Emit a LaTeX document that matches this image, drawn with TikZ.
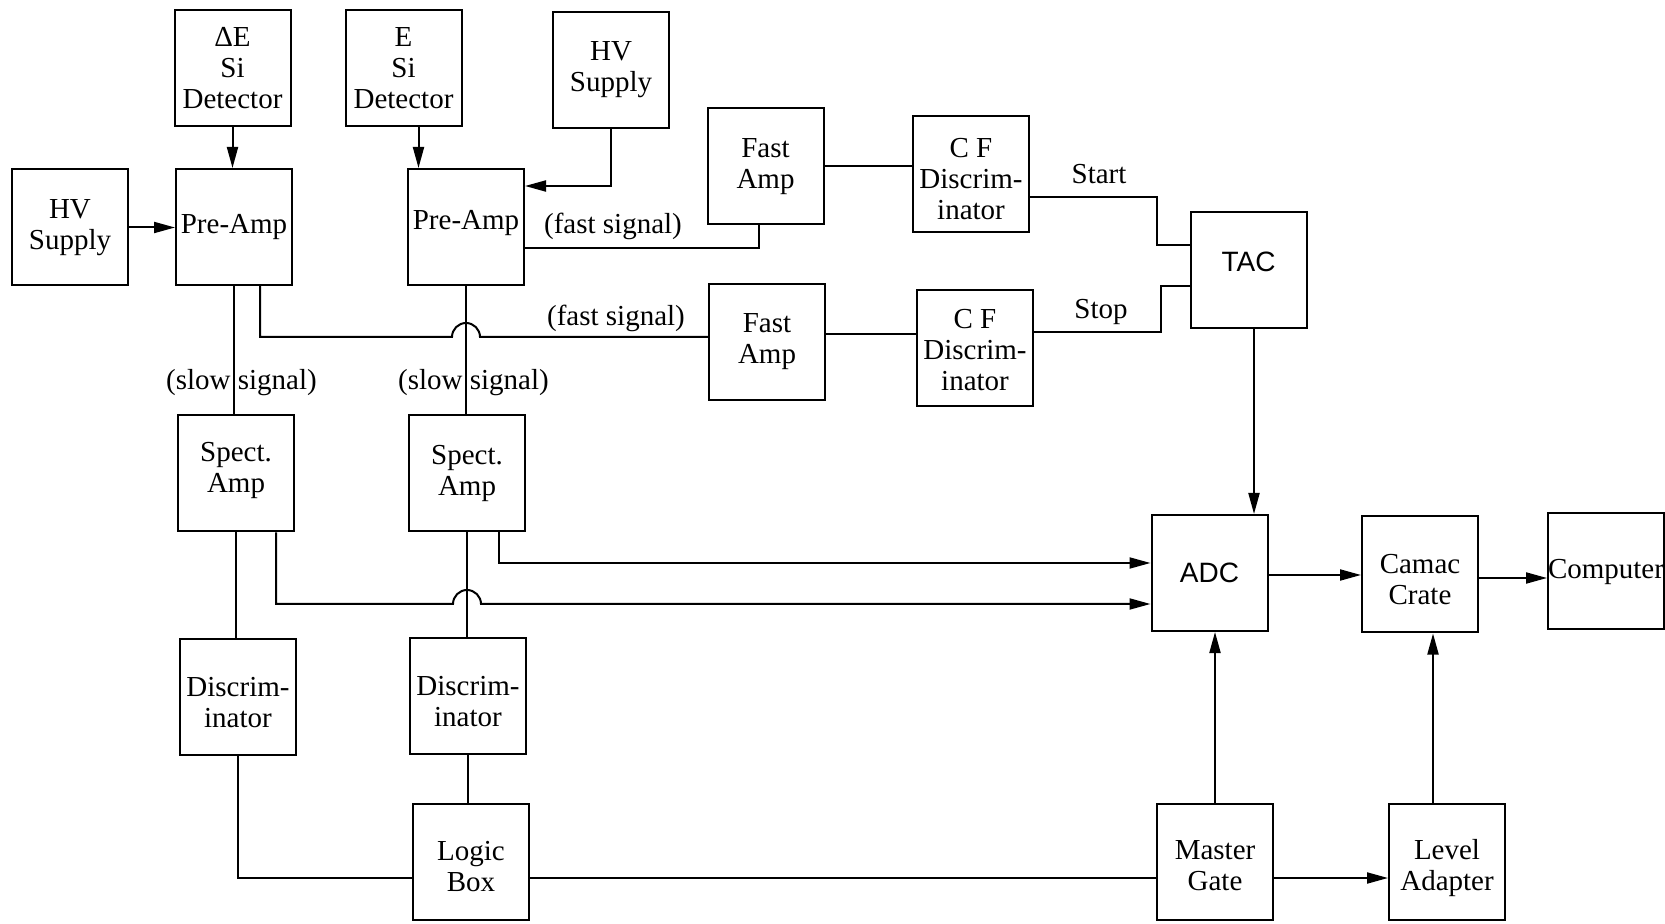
\documentclass[tikz,border=0pt]{standalone}
\usepackage{fontspec}
\setmainfont{Liberation Serif}
\newfontfamily\sansf{Liberation Sans}
\usetikzlibrary{arrows.meta}
\newcommand\shtxt[2]{\raisebox{#1}[\height][\depth]{\begin{tabular}{@{}c@{}}#2\end{tabular}}}
\begin{document}
\begin{tikzpicture}[x=0.5pt,y=-0.5pt,
  blk/.style={draw, line width=1pt, minimum width=58pt, minimum height=58pt, align=center, inner sep=0pt, font=\fontsize{14.5}{15.5}\selectfont},
  sanstext/.style={font=\sansf\fontsize{14}{15}\selectfont},
  wire/.style={line width=1pt},
  arr/.style={line width=1pt, -{Triangle[length=10.5pt,width=5.5pt]}},
  lbl/.style={font=\fontsize{14.5}{15.5}\selectfont, inner sep=0pt}]
\useasboundingbox (0,0) rectangle (1665,924);
% boxes
\node[blk] (dE) at (232.5,68) {ΔE\\Si\\Detector};
\node[blk] (E) at (403.5,68) {E\\Si\\Detector};
\node[blk] (HV2) at (611,70) {HV\\Supply};
\node[blk] (HV1) at (70,227.5) {HV\\Supply};
\node[blk] (PA1) at (234,227) {Pre-Amp};
\node[blk, text height=9.6pt, text depth=7.15pt] (PA2) at (466,227) {Pre-Amp};
\node[blk] (FA1) at (765.5,166.5) {Fast\\Amp};
\node[blk] (CF1) at (971,174) {\shtxt{-4pt}{C F\\Discrim-\\inator}};
\node[blk, sanstext, text height=10pt, text depth=8.5pt] (TAC) at (1248.5,270.5) {TAC};
\node[blk] (FA2) at (767,342) {Fast\\Amp};
\node[blk] (CF2) at (975,348) {\shtxt{-2.9pt}{C F\\Discrim-\\inator}};
\node[blk] (SA1) at (236,473.5) {\shtxt{1.4pt}{Spect.\\Amp}};
\node[blk] (SA2) at (467,473.5) {Spect.\\Amp};
\node[blk, sanstext] (ADC) at (1209.5,573) {ADC};
\node[blk] (Camac) at (1420,574.5) {\shtxt{-4.35pt}{Camac\\Crate}};
\node[blk] (Comp) at (1606,571.5) {Computer};
\node[blk] (Disc1) at (238,696.5) {\shtxt{-4.85pt}{Discrim-\\inator}};
\node[blk] (Disc2) at (468,696) {\shtxt{-4.35pt}{Discrim-\\inator}};
\node[blk] (Logic) at (471,862) {\shtxt{-3.95pt}{Logic\\Box}};
\node[blk] (Master) at (1215,862) {\shtxt{-3.6pt}{Master\\Gate}};
\node[blk] (Level) at (1447,861.5) {\shtxt{-3.5pt}{Level\\Adapter}};
% labels
\node[lbl] (fs1) at (613,226) {(fast signal)};
\node[lbl] (fs2) at (616,318) {(fast signal)};
\node[lbl] (start) at (1099,174) {Start};
\node[lbl] (stop) at (1101,312) {Stop};
\node[lbl] (ss1) at (241.5,383) {(slow signal)};
\node[lbl] (ss2) at (473.5,383) {(slow signal)};
% helper coordinates
\coordinate (eout) at ([xshift=7.5pt]E.south);
\coordinate (pa2hv) at ([yshift=-9pt]PA2.north east);
\coordinate (pa2f) at ([yshift=-10.75pt]PA2.east);
\coordinate (fa1in) at ([xshift=-3.5pt]FA1.south);
\coordinate (cf1out) at ([yshift=-11.5pt]CF1.east);
\coordinate (k1) at (1157,0);
\coordinate (TACa) at ([yshift=12.75pt]TAC.west);
\coordinate (cf2out) at ([yshift=8pt]CF2.east);
\coordinate (k2) at (1161,0);
\coordinate (TACb) at ([yshift=-8pt]TAC.west);
\coordinate (fa2out) at ([yshift=4pt]FA2.east);
\coordinate (p1) at ([xshift=13pt]PA1.south);
\coordinate (f2in) at ([yshift=2.5pt]FA2.west);
\coordinate (h1) at (PA2.south |- f2in);
\coordinate (t1) at ([xshift=2.75pt]TAC.south);
\coordinate (s2) at ([xshift=16pt]SA2.south);
\coordinate (a1) at ([yshift=5pt]ADC.west);
\coordinate (s1) at ([xshift=20pt]SA1.south);
\coordinate (a2) at ([yshift=-15.5pt]ADC.west);
\coordinate (h2) at (SA2.south |- a2);
\coordinate (l1) at ([yshift=-8pt]Logic.west);
\coordinate (l2) at ([yshift=-8pt]Logic.east);
\coordinate (m1) at ([yshift=-8pt]Master.east);
\coordinate (v1) at ([xshift=-7pt]Level.north);
\coordinate (a3) at ([yshift=-1pt]ADC.east);
\coordinate (c1) at ([yshift=-1.75pt]Camac.east);
% connectors
\draw[arr] (dE.south) -- (dE.south |- PA1.north);
\draw[arr] (eout) -- (eout |- PA2.north);
\draw[arr] (HV2.south) |- (pa2hv);
\draw[arr] (HV1.east) -- (HV1.east -| PA1.west);
\draw[wire] (pa2f) -| (fa1in);
\draw[wire] (FA1.east) -- (FA1.east -| CF1.west);
\draw[wire] (cf1out) -| (k1 |- TACa) -- (TACa);
\draw[wire] (fa2out) -- (fa2out -| CF2.west);
\draw[wire] (cf2out) -| (k2 |- TACb) -- (TACb);
\draw[wire] (p1) |- ([xshift=-7pt]h1) arc[start angle=180,end angle=0,radius=7pt] -- (f2in);
\draw[arr] (t1) -- (t1 |- ADC.north);
\draw[wire] (PA1.south) -- (PA1.south |- SA1.north);
\draw[wire] (PA2.south) -- (PA2.south |- SA2.north);
\draw[arr] (s2) |- (a1);
\draw[arr] (s1) |- ([xshift=-7pt]h2) arc[start angle=180,end angle=0,radius=7pt] -- (a2);
\draw[wire] (SA1.south) -- (SA1.south |- Disc1.north);
\draw[wire] (SA2.south) -- (SA2.south |- Disc2.north);
\draw[wire] (Disc1.south) |- (l1);
\draw[wire] (Disc2.south) -- (Disc2.south |- Logic.north);
\draw[wire] (l2) -- (l2 -| Master.west);
\draw[arr] (Master.north) -- (Master.north |- ADC.south);
\draw[arr] (m1) -- (m1 -| Level.west);
\draw[arr] (v1) -- (v1 |- Camac.south);
\draw[arr] (a3) -- (a3 -| Camac.west);
\draw[arr] (c1) -- (c1 -| Comp.west);
\end{tikzpicture}
\end{document}
